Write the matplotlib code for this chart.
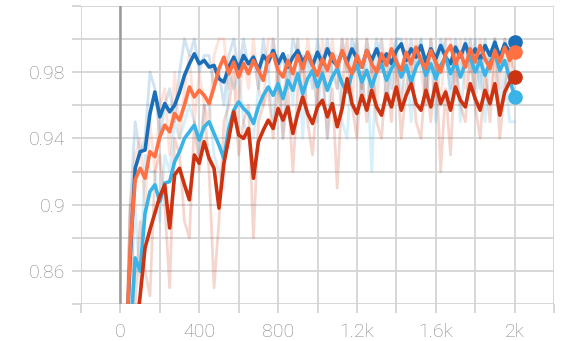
import numpy as np
import matplotlib
matplotlib.use("Agg")
import matplotlib.pyplot as plt
from matplotlib.ticker import FixedLocator, FuncFormatter

# logging steps
steps = np.arange(25, 2001, 25)

blue_smooth = [
    0.800, 0.870, 0.922, 0.932, 0.933, 0.955, 0.968, 0.953, 0.961, 0.956,
    0.960, 0.968, 0.978, 0.985, 0.991, 0.985, 0.987, 0.983, 0.984, 0.976,
    0.974, 0.983, 0.989, 0.982, 0.990, 0.985, 0.989, 0.981, 0.990, 0.986,
    0.993, 0.985, 0.991, 0.983, 0.989, 0.993, 0.986, 0.991, 0.984, 0.992,
    0.985, 0.994, 0.987, 0.984, 0.992, 0.986, 0.994, 0.988, 0.983, 0.993,
    0.987, 0.994, 0.986, 0.991, 0.985, 0.993, 0.997, 0.987, 0.994, 0.989,
    0.996, 0.986, 0.994, 0.988, 0.996, 0.989, 0.985, 0.995, 0.989, 0.997,
    0.988, 0.994, 0.987, 0.996, 0.990, 0.998, 0.989, 0.997, 0.992, 0.998]

cyan_smooth = [
    0.780, 0.820, 0.868, 0.860, 0.895, 0.908, 0.912, 0.902, 0.913, 0.914,
    0.926, 0.932, 0.940, 0.944, 0.948, 0.939, 0.947, 0.950, 0.943, 0.936,
    0.928, 0.946, 0.957, 0.962, 0.958, 0.955, 0.949, 0.959, 0.966, 0.971,
    0.966, 0.973, 0.964, 0.975, 0.969, 0.979, 0.967, 0.976, 0.981, 0.971,
    0.979, 0.969, 0.977, 0.982, 0.973, 0.968, 0.979, 0.984, 0.974, 0.981,
    0.971, 0.980, 0.985, 0.975, 0.982, 0.987, 0.977, 0.984, 0.974, 0.983,
    0.988, 0.978, 0.985, 0.976, 0.984, 0.989, 0.979, 0.986, 0.977, 0.985,
    0.989, 0.980, 0.987, 0.978, 0.986, 0.991, 0.981, 0.987, 0.976, 0.965]

orange_smooth = [
    0.800, 0.875, 0.915, 0.922, 0.916, 0.932, 0.929, 0.941, 0.948, 0.944,
    0.955, 0.951, 0.960, 0.971, 0.965, 0.969, 0.966, 0.961, 0.971, 0.982,
    0.989, 0.979, 0.986, 0.977, 0.985, 0.979, 0.987, 0.981, 0.975, 0.989,
    0.991, 0.981, 0.977, 0.987, 0.979, 0.990, 0.982, 0.992, 0.984, 0.978,
    0.988, 0.981, 0.991, 0.983, 0.993, 0.985, 0.979, 0.990, 0.983, 0.993,
    0.985, 0.980, 0.991, 0.984, 0.994, 0.986, 0.981, 0.992, 0.985, 0.995,
    0.987, 0.982, 0.993, 0.986, 0.980, 0.991, 0.996, 0.985, 0.992, 0.983,
    0.994, 0.986, 0.996, 0.988, 0.982, 0.993, 0.986, 0.995, 0.987, 0.992]

red_smooth = [
    0.750, 0.780, 0.820, 0.845, 0.874, 0.885, 0.895, 0.905, 0.912, 0.886,
    0.918, 0.922, 0.912, 0.903, 0.930, 0.925, 0.938, 0.928, 0.922, 0.898,
    0.925, 0.940, 0.956, 0.942, 0.940, 0.946, 0.916, 0.938, 0.945, 0.951,
    0.946, 0.958, 0.951, 0.959, 0.943, 0.955, 0.965, 0.955, 0.949, 0.959,
    0.963, 0.953, 0.961, 0.947, 0.958, 0.976, 0.961, 0.955, 0.966, 0.957,
    0.969, 0.959, 0.954, 0.967, 0.959, 0.971, 0.957, 0.966, 0.973, 0.961,
    0.957, 0.969, 0.959, 0.973, 0.961, 0.968, 0.957, 0.971, 0.963, 0.959,
    0.973, 0.964, 0.957, 0.969, 0.961, 0.973, 0.954, 0.968, 0.974, 0.977]

blue_raw = [
    0.780, 0.900, 0.950, 0.930, 0.940, 0.980, 0.970, 0.940, 0.960, 0.970,
    0.950, 0.980, 1.000, 0.990, 1.000, 0.980, 0.990, 0.990, 0.970, 0.980,
    0.960, 0.990, 1.000, 0.980, 1.000, 0.980, 0.990, 0.970, 1.000, 0.980,
    1.000, 0.980, 0.990, 0.970, 1.000, 0.990, 0.980, 0.990, 0.970, 1.000,
    0.980, 1.000, 0.980, 0.970, 1.000, 0.980, 1.000, 0.990, 0.970, 1.000,
    0.980, 1.000, 0.980, 0.990, 0.970, 1.000, 1.000, 0.980, 1.000, 0.980,
    1.000, 0.970, 1.000, 0.980, 1.000, 0.990, 0.970, 1.000, 0.980, 1.000,
    0.980, 1.000, 0.970, 1.000, 0.980, 1.000, 0.980, 1.000, 0.990, 1.000]

cyan_raw = [
    0.780, 0.840, 0.900, 0.850, 0.930, 0.920, 0.920, 0.890, 0.930, 0.920,
    0.950, 0.940, 0.950, 0.960, 0.950, 0.930, 0.960, 0.960, 0.930, 0.920,
    0.910, 0.980, 0.970, 0.980, 0.950, 0.940, 0.940, 0.970, 0.990, 0.980,
    0.950, 0.990, 0.940, 0.990, 0.960, 1.000, 0.940, 0.990, 0.990, 0.950,
    0.990, 0.940, 0.990, 0.990, 0.950, 0.940, 0.990, 1.000, 0.960, 0.990,
    0.920, 0.990, 1.000, 0.960, 0.990, 1.000, 0.960, 0.990, 0.950, 0.990,
    1.000, 0.960, 0.990, 0.950, 0.990, 1.000, 0.960, 0.990, 0.950, 0.990,
    1.000, 0.960, 0.990, 0.950, 0.990, 1.000, 0.960, 0.980, 0.950, 0.950]

orange_raw = [
    0.800, 0.900, 0.930, 0.940, 0.900, 0.950, 0.920, 0.960, 0.970, 0.930,
    0.980, 0.940, 0.970, 0.990, 0.950, 0.980, 0.960, 0.950, 0.990, 1.000,
    1.000, 0.970, 0.990, 0.960, 0.990, 0.970, 1.000, 0.970, 0.960, 1.000,
    1.000, 0.970, 0.960, 0.990, 0.970, 1.000, 0.970, 1.000, 0.980, 0.960,
    1.000, 0.970, 1.000, 0.970, 1.000, 0.980, 0.960, 1.000, 0.970, 1.000,
    0.980, 0.960, 1.000, 0.980, 1.000, 0.980, 0.960, 1.000, 0.980, 1.000,
    0.980, 0.960, 1.000, 0.980, 0.960, 1.000, 1.000, 0.970, 1.000, 0.970,
    1.000, 0.970, 1.000, 0.980, 0.960, 1.000, 0.970, 1.000, 0.980, 0.990]

red_raw = [
    0.800, 0.900, 0.840, 0.890, 0.860, 0.845, 0.920, 0.930, 0.900, 0.850,
    0.940, 0.930, 0.890, 0.880, 0.950, 0.920, 0.960, 0.920, 0.850, 0.890,
    0.950, 0.960, 0.980, 0.930, 0.950, 0.960, 0.880, 0.950, 0.960, 0.970,
    0.940, 0.980, 0.940, 0.970, 0.920, 0.970, 0.990, 0.950, 0.930, 0.970,
    0.980, 0.940, 0.970, 0.910, 0.970, 1.000, 0.960, 0.940, 0.980, 0.950,
    0.990, 0.950, 0.940, 0.980, 0.950, 0.990, 0.940, 0.970, 0.990, 0.950,
    0.940, 0.980, 0.950, 0.990, 0.920, 0.970, 0.930, 0.990, 0.960, 0.950,
    0.990, 0.960, 0.940, 0.980, 0.950, 0.990, 0.940, 0.970, 0.990, 0.980]

x_ticks = list(range(-200, 2201, 200))
x_labels = {0: "0", 400: "400", 800: "800", 1200: "1.2k", 1600: "1.6k", 2000: "2k"}
y_ticks = [0.84, 0.86, 0.88, 0.90, 0.92, 0.94, 0.96, 0.98, 1.00, 1.02]
y_labels = {0.86: "0.86", 0.90: "0.9", 0.94: "0.94", 0.98: "0.98"}

colors = {"blue": "#1b6fb8", "cyan": "#3ab3e6", "orange": "#ff7043", "red": "#cc3311"}

plt.rcParams["font.family"] = ["Roboto", "DejaVu Sans"]

fig = plt.figure(figsize=(5.67, 3.41), dpi=100)
ax = fig.add_axes([81 / 567, 1 - 304.3 / 341, (554 - 81) / 567, (304.3 - 5.7) / 341])

series = [
    (blue_raw, blue_smooth, colors["blue"]),
    (cyan_raw, cyan_smooth, colors["cyan"]),
    (orange_raw, orange_smooth, colors["orange"]),
    (red_raw, red_smooth, colors["red"]),
]

for raw, _, c in series:
    ax.plot(steps, raw, color=c, lw=2.0, alpha=0.2, zorder=2)
for _, sm, c in series:
    ax.plot(steps, sm, color=c, lw=2.6, zorder=3)
for _, sm, c in series:
    ax.plot([steps[-1]], [sm[-1]], "o", color=c, ms=9.5, zorder=4, clip_on=False)

ax.set_xlim(-200, 2200)
ax.set_ylim(0.84, 1.02)
ax.xaxis.set_major_locator(FixedLocator(x_ticks))
ax.yaxis.set_major_locator(FixedLocator(y_ticks))
ax.xaxis.set_major_formatter(FuncFormatter(lambda v, p: x_labels.get(int(round(v)), "")))
ax.yaxis.set_major_formatter(FuncFormatter(lambda v, p: y_labels.get(round(v, 2), "")))

grid_c = "#d4d4d4"
ax.grid(True, color=grid_c, lw=1.3, zorder=0)
ax.set_axisbelow(True)
for s in ax.spines.values():
    s.set_visible(False)
ax.axvline(0, color="#9a9a9a", lw=1.8, zorder=1)
ax.tick_params(axis="both", colors=grid_c, length=6.5, width=1.3, direction="out",
               labelcolor="#858585", labelsize=14)
ax.tick_params(axis="x", pad=7)
ax.tick_params(axis="y", pad=5)
for lab in ax.get_xticklabels() + ax.get_yticklabels():
    lab.set_fontweight("light")

fig.savefig("out.png", dpi=100)
